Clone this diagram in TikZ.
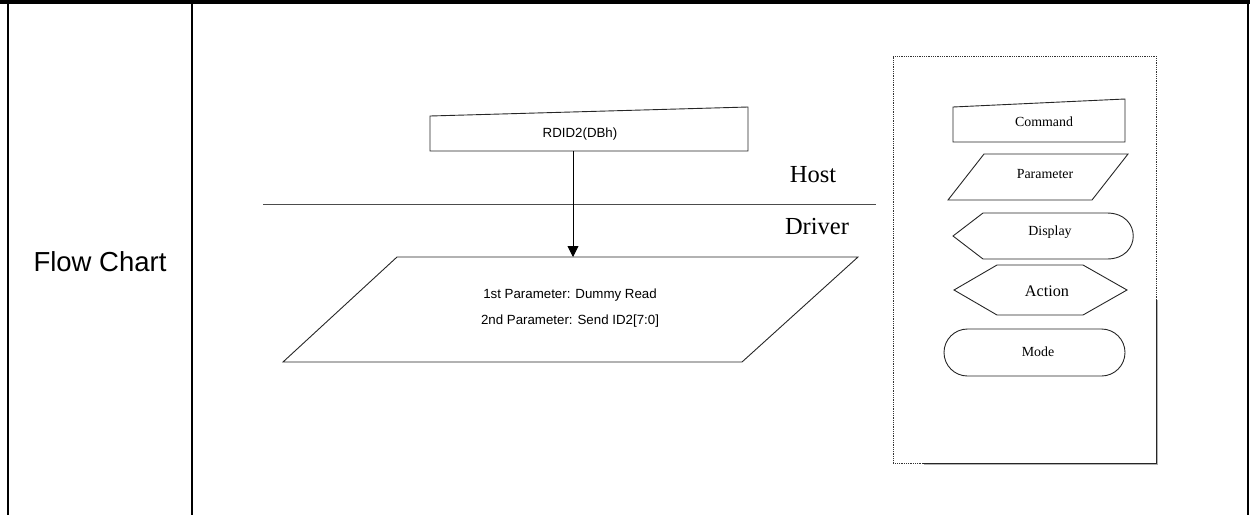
\documentclass[tikz,border=0pt]{standalone}
\usepackage{fontspec}
\setmainfont{Liberation Serif}
\newfontfamily\arialfont{Liberation Sans}
\usepackage{xcolor}
\usepackage{tikz}
\usetikzlibrary{arrows.meta,calc,positioning}

\begin{document}
\begin{tikzpicture}[x=1pt,y=-1pt,
  rule/.style={line width=2.3pt,black},
  outline/.style={line width=0.9pt,black!85},
  dotline/.style={line width=0.9pt,black!80,dash pattern=on 0.9pt off 0.9pt},
  sanstext/.style={font=\arialfont\fontsize{13.3}{15}\selectfont,inner sep=0pt},
  legendtext/.style={font=\fontsize{13.9}{16}\selectfont,inner sep=0pt}]
  \useasboundingbox (0,0) rectangle (1250,515);
  % table frame
  \fill[black] (0,0) rectangle (1250,4);
  \draw[rule] (8.2,0) -- (8.2,515);
  \draw[rule] (192.2,0) -- (192.2,515);
  \draw[rule] (1247.8,0) -- (1247.8,515);
  \node[font=\arialfont\fontsize{27.5}{30}\selectfont,inner sep=0pt] (title) at (100,262) {Flow Chart};
  % command box
  \draw[outline] (430,116) -- (748,107) -- (748,151) -- (430,151) -- cycle;
  \node[sanstext] (rdid) at (580,134) {RDID2(DBh)};
  % host / driver border
  \draw[line width=0.9pt,black!70] (263,204) -- (876,204);
  \node[font=\fontsize{24.5}{27}\selectfont,inner sep=0pt] (host) at (813,175) {Host};
  \node[font=\fontsize{24.5}{27}\selectfont,inner sep=0pt] (driver) at (817,227) {Driver};
  % parameter box
  \draw[outline] (397,257) -- (858,257) -- (742,362) -- (283,362) -- cycle;
  \node[sanstext] (par1) at (570,295) {1st Parameter: Dummy Read};
  \node[sanstext] (par2) at (570,321) {2nd Parameter: Send ID2[7:0]};
  \coordinate (cmdout) at (573,151);
  \coordinate (parin) at (573,257);
  \draw[line width=0.9pt,-{Triangle[length=11pt,width=11pt]}] (cmdout) -- (parin);
  % legend
  \draw[black!30,line width=1pt] (924,464.5) -- (1157.5,464.5) -- (1157.5,300);
  \draw[dotline] (1156,300) -- (1156,56) -- (893,56) -- (893,463) -- (923,463);
  \draw[outline] (923,463) -- (1156,463) -- (1156,300);
  \draw[outline] (953,107) -- (1125,99) -- (1125,142) -- (953,142) -- cycle;
  \node[legendtext] (lcmd) at (1044,122) {Command};
  \draw[outline] (984,154) -- (1128,154) -- (1092,200) -- (948,200) -- cycle;
  \node[legendtext] (lpar) at (1045,174) {Parameter};
  \draw[outline] (953,236) -- (983,213) -- (1107,213) .. controls (1142,213) and (1142,259) .. (1107,259) -- (983,259) -- cycle;
  \node[legendtext] (ldisp) at (1050,232) {Display};
  \draw[outline] (954,290) -- (997,265) -- (1083,265) -- (1127,290) -- (1083,315) -- (997,315) -- cycle;
  \node[legendtext,font=\fontsize{16.2}{18}\selectfont] (lact) at (1047,291) {Action};
  \draw[outline,rounded corners=23.5pt] (944,329) rectangle (1125,376);
  \node[legendtext] (lmode) at (1038,352) {Mode};
\end{tikzpicture}
\end{document}
